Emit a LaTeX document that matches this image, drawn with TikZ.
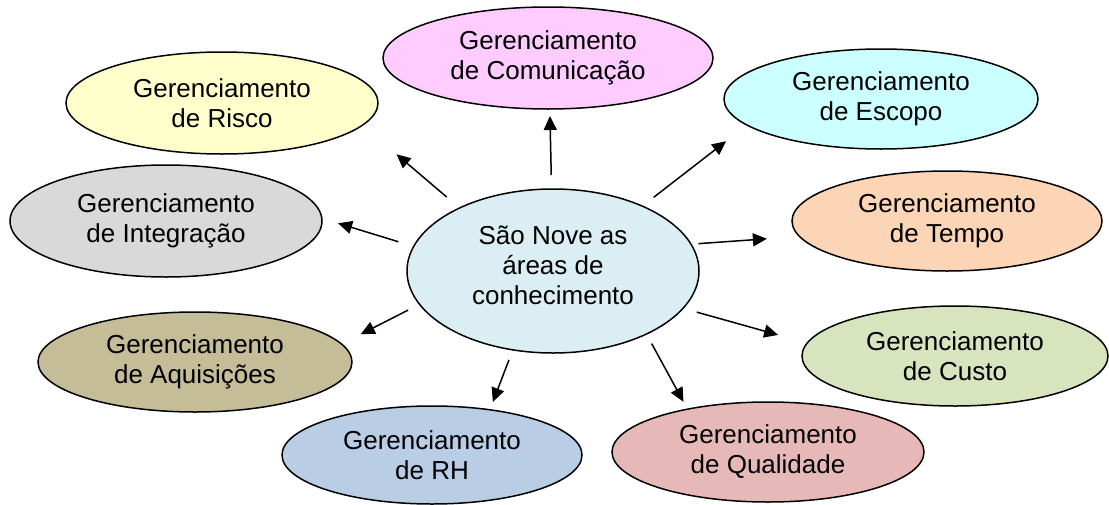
\documentclass[tikz,border=0pt]{standalone}
\usepackage{fontspec}
\setmainfont{Liberation Sans}
\usepackage{xcolor}
\usepackage{tikz}
\usetikzlibrary{shapes.geometric}
\usetikzlibrary{arrows.meta}

\definecolor{corCentro}{HTML}{DAEEF3}
\definecolor{corRisco}{HTML}{FFFFCC}
\definecolor{corComunic}{HTML}{FFCCFF}
\definecolor{corEscopo}{HTML}{CCFFFF}
\definecolor{corIntegr}{HTML}{D9D9D9}
\definecolor{corTempo}{HTML}{FBD5B5}
\definecolor{corAquis}{HTML}{C4BD97}
\definecolor{corCusto}{HTML}{D7E4BD}
\definecolor{corRH}{HTML}{B9CDE5}
\definecolor{corQualid}{HTML}{E6B9B8}

\begin{document}
\begin{tikzpicture}[x = 0.5pt, y = -0.5pt,
                    area/.style = { ellipse, draw, black, text = black, line width = 0.75pt, inner sep = 0pt, outer sep = 0pt, align = center, font = \fontsize{13}{15}\selectfont },
                    seta/.style = { -{Triangle[length = 7pt, width = 6.5pt]}, line width = 0.75pt },
                   ]
    \useasboundingbox (0,0) rectangle (1109,504);

    \node[area, fill = corCentro, minimum width = 146pt, minimum height = 82pt, text depth = 6pt] (Centro) at (553,271) {São Nove as\\áreas de\\conhecimento};

    \node[area, fill = corRisco, minimum width = 156pt, minimum height = 51pt] (Risco) at (222,103) {Gerenciamento\\de Risco};
    \node[area, fill = corComunic, minimum width = 165pt, minimum height = 51pt] (Comunic) at (548,58) {Gerenciamento\\de Comunicação};
    \node[area, fill = corEscopo, minimum width = 157pt, minimum height = 50pt] (Escopo) at (881,99) {Gerenciamento\\de Escopo};
    \node[area, fill = corIntegr, minimum width = 156pt, minimum height = 56pt] (Integr) at (166,221) {Gerenciamento\\de Integração};
    \node[area, fill = corTempo, minimum width = 155pt, minimum height = 50pt] (Tempo) at (947,221) {Gerenciamento\\de Tempo};
    \node[area, fill = corAquis, minimum width = 157pt, minimum height = 50pt] (Aquis) at (195,362) {Gerenciamento\\de Aquisições};
    \node[area, fill = corCusto, minimum width = 153pt, minimum height = 50pt] (Custo) at (955,356) {Gerenciamento\\de Custo};
    \node[area, fill = corRH, minimum width = 150pt, minimum height = 49pt] (RH) at (432,455) {Gerenciamento\\de RH};
    \node[area, fill = corQualid, minimum width = 156pt, minimum height = 50pt] (Qualid) at (768,452) {Gerenciamento\\de Qualidade};

    \draw[seta, shorten <= 7pt, shorten >= 3.5pt] (Centro.91.4) -- (Comunic.272.1);
    \draw[seta, shorten <= 7.2pt, shorten >= 13.2pt] (Centro.36.35) -- (Escopo.191);
    \draw[seta, shorten <= 3.7pt, shorten >= 16.4pt] (Centro.11.87) -- (Tempo.186.5);
    \draw[seta, shorten <= 7.15pt, shorten >= 15.1pt] (Centro.344.1) -- (Custo.175.05);
    \draw[seta, shorten <= 5.45pt, shorten >= 4.2pt] (Centro.326.8) -- (Qualid.152.7);
    \draw[seta, shorten <= 5.4pt, shorten >= 4.2pt] (Centro.243.8) -- (RH.38);
    \draw[seta, shorten <= 6.4pt, shorten >= 10.8pt] (Centro.194.6) -- (Aquis.7.37);
    \draw[seta, shorten <= 8pt, shorten >= 8.5pt] (Centro.170.2) -- (Integr.1.14);
    \draw[seta, shorten <= 8.4pt, shorten >= 22.4pt] (Centro.146) -- (Risco.351.2);
\end{tikzpicture}
\end{document}
